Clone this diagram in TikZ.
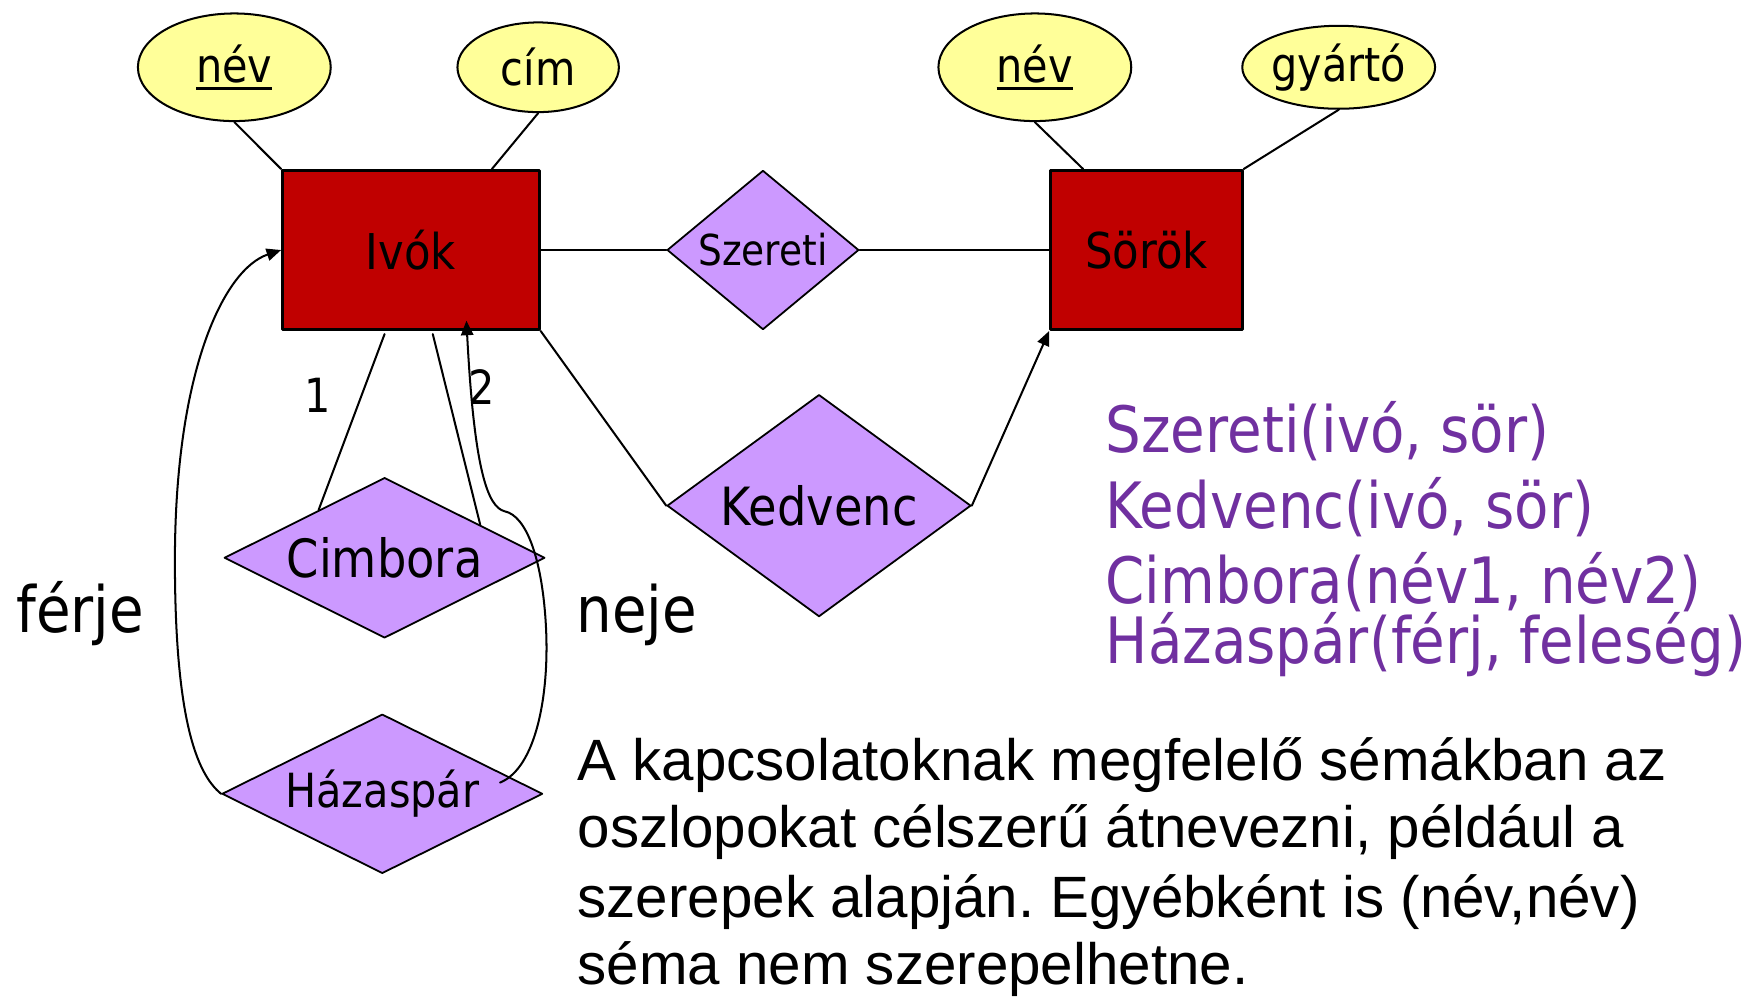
\documentclass[tikz,border=0pt]{standalone}
\usepackage{fontspec}
\setmainfont{DejaVu Sans}[FakeStretch=0.88]
\newfontfamily\parafont{Liberation Sans}
\usepackage{xcolor}
\usetikzlibrary{shapes.geometric,arrows.meta}
\definecolor{entred}{RGB}{192,0,0}
\definecolor{relpurple}{RGB}{204,153,255}
\definecolor{attryellow}{RGB}{255,255,153}
\definecolor{schemapurple}{RGB}{112,48,160}
\newcommand{\keyattr}[1]{\setbox0\hbox{#1}\rlap{\rule[-7pt]{\wd0}{3pt}}\box0}
\frenchspacing

\begin{document}
\begin{tikzpicture}[x=1pt,y=-1pt,line cap=round,line join=round,>={Triangle[length=13pt,width=11pt]},
	entity/.style={draw,line width=2.5pt,fill=entred,minimum height=142pt,inner sep=0pt,font=\fontsize{44}{50}\selectfont},
	attr/.style={ellipse,draw,line width=1.8pt,fill=attryellow,inner sep=0pt,font=\fontsize{42}{50}\selectfont},
	rel/.style={diamond,draw,line width=1.6pt,fill=relpurple,inner sep=0pt},
	conn/.style={line width=1.8pt},
	role/.style={anchor=base,inner sep=0pt,font=\fontsize{57}{60}\selectfont},
	schema/.style={anchor=base west,inner sep=0pt,text=schemapurple,font=\fontsize{57}{60}\selectfont},
	para/.style={anchor=base west,inner sep=0pt,font=\parafont\fontsize{52}{61}\selectfont}]
		\useasboundingbox (0,0) rectangle (1568,891);
		\node[entity,minimum width=229pt] (ivok) at (366.5,223) {Ivók};
		\node[entity,minimum width=171pt] (sorok) at (1022.5,223) {Sörök};
		\node[attr,minimum width=172pt,minimum height=96pt] (nev1) at (209,60) {\keyattr{név}};
		\node[attr,minimum width=144pt,minimum height=80pt] (cim) at (480,60) {cím};
		\node[attr,minimum width=172pt,minimum height=96pt] (nev2) at (923,60) {\keyattr{név}};
		\node[attr,minimum width=172pt,minimum height=74pt] (gyarto) at (1194,60) {gyártó};
		\node[rel,aspect=1.2,minimum width=171pt,minimum height=142pt,font=\fontsize{38}{44}\selectfont] (szer) at (680.5,223) {Szereti};
		\node[rel,aspect=1.37,minimum width=271pt,minimum height=198pt,font=\fontsize{47}{54}\selectfont] (kedv) at (730.5,451) {Kedvenc};
		\node[rel,aspect=2,minimum width=286pt,minimum height=143pt,font=\fontsize{47}{54}\selectfont] (cimb) at (343,497.5) {Cimbora};
		\node[rel,aspect=2,minimum width=286pt,minimum height=142pt,font=\fontsize{42}{50}\selectfont] (haz) at (341,708) {Házaspár};
		\coordinate (c1) at (343,298);
		\coordinate (c2) at (386,298);
		\coordinate (fl) at (156,500);
		\coordinate (n0) at (446,698);
		\coordinate (n1) at (487,560);
		\coordinate (n2) at (450,456);
		\coordinate (n3) at (416,286);
		\draw [conn] (nev1.south)-- (ivok.north west);
		\draw [conn] (cim.south)-- (ivok.45);
		\draw [conn] (nev2.south)-- (sorok.128);
		\draw [conn] (gyarto.south)-- (sorok.north east);
		\draw [conn,line width=2.5pt] (ivok)-- (szer);
		\draw [conn,line width=2.5pt] (szer)-- (sorok);
		\draw [conn] (ivok.south east)-- (kedv.west);
		\draw [conn,->] (kedv.east)-- (sorok.south west);
		\draw [conn] (c1)-- (cimb.144);
		\draw [conn] (c2)-- (cimb.19);
		\draw [conn,->] (haz.west) .. controls (175,690) and (156,640) .. (fl) .. controls (156,330) and (200,240) .. (ivok.west);
		\draw [conn,->] (n0) .. controls (478,685) and (490,620) .. (n1) .. controls (484,500) and (470,460) .. (n2) .. controls (435,452) and (423,420) .. (n3);
		\node[anchor=base,inner sep=0pt,font=\fontsize{42}{50}\selectfont] (one) at (283,368) {1};
		\node[anchor=base,inner sep=0pt,font=\fontsize{42}{50}\selectfont] (two) at (430,361) {2};
		\node[role] (ferje) at (71.5,564) {férje};
		\node[role] (neje) at (568,564) {neje};
		\node[schema] (s1) at (986,404) {Szereti(ivó, sör)};
		\node[schema] (s2) at (986,471) {Kedvenc(ivó, sör)};
		\node[schema] (s3) at (986,538) {Cimbora(név1, név2)};
		\node[schema] (s4) at (986,592) {Házaspár(férj, feleség)};
		\node[para] (p1) at (515,696) {A kapcsolatoknak megfelelő sémákban az};
		\node[para] (p2) at (515,756) {oszlopokat célszerű átnevezni, például a};
		\node[para] (p3) at (515,818) {szerepek alapján. Egyébként is (név,név)};
		\node[para] (p4) at (515,878) {séma nem szerepelhetne.};
	\end{tikzpicture}
\end{document}
